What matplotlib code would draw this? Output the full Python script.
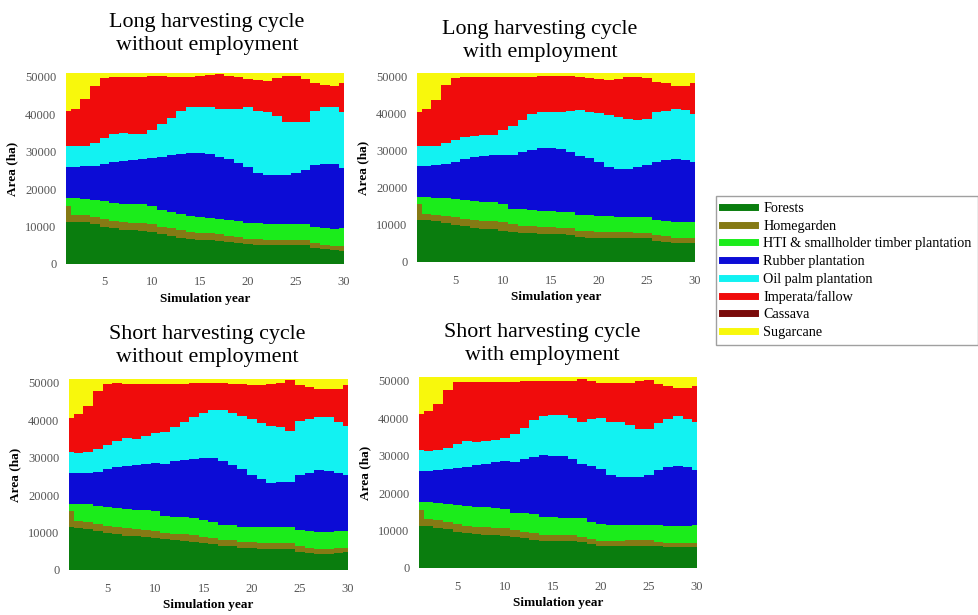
import numpy as np
import matplotlib
matplotlib.use("Agg")
import matplotlib.pyplot as plt
from matplotlib.lines import Line2D

plt.rcParams['font.family'] = ['Liberation Serif', 'DejaVu Serif']

# simulation years
years = np.arange(1, 31)

labels = ["Forests", "Homegarden", "HTI & smallholder timber plantation",
          "Rubber plantation", "Oil palm plantation", "Imperata/fallow",
          "Cassava", "Sugarcane"]
colors = ["#0a7d0e", "#857a14", "#1bec1b", "#0c0cd6",
          "#12f2f2", "#f00c0c", "#7a0a0a", "#f8f80c"]

# area per land use, thousand ha
cassava = [0, 0, 0, 0, 0, 0, 0, 0, 0, 0, 0, 0, 0, 0, 0,
           0, 0, 0, 0, 0, 0, 0, 0, 0, 0, 0, 0, 0, 0, 0]

# Long harvesting cycle without employment
ln_forest = [11.3, 11.3, 11.2, 10.6, 10.0, 9.5, 9.2, 9.0, 8.9, 8.6, 8.0, 7.6, 7.0, 6.7, 6.5,
             6.4, 6.1, 5.9, 5.6, 5.3, 5.2, 5.1, 5.1, 5.1, 5.1, 5.0, 4.3, 3.9, 3.7, 3.6]
ln_homegarden = [4.2, 1.9, 1.8, 1.9, 1.9, 1.9, 1.9, 2.0, 2.1, 2.1, 2.0, 2.0, 2.0, 1.9, 1.9,
                 1.8, 1.8, 1.7, 1.6, 1.5, 1.4, 1.4, 1.4, 1.4, 1.3, 1.3, 1.2, 1.2, 1.2, 1.2]
ln_hti = [2.0, 4.3, 4.4, 4.6, 4.8, 4.9, 5.0, 5.0, 4.9, 4.9, 4.5, 4.4, 4.4, 4.3, 4.2,
          4.1, 4.1, 4.2, 4.2, 4.2, 4.3, 4.3, 4.3, 4.3, 4.3, 4.3, 4.3, 4.5, 4.5, 4.7]
ln_rubber = [8.5, 8.5, 8.7, 9.2, 10.1, 10.9, 11.5, 11.9, 12.2, 12.8, 14.1, 15.0, 16.1, 16.7, 17.0,
             17.1, 16.6, 16.2, 15.6, 14.8, 13.4, 13.0, 13.0, 13.0, 13.7, 14.4, 16.7, 17.2, 17.2, 16.1]
ln_oilpalm = [5.6, 5.4, 5.5, 6.0, 6.8, 7.4, 7.5, 6.9, 6.6, 7.4, 8.8, 10.0, 11.3, 12.2, 12.4,
              12.6, 12.8, 13.3, 14.5, 16.0, 16.5, 16.7, 15.8, 14.2, 13.5, 12.8, 14.3, 15.0, 15.4, 15.0]
ln_imperata = [9.2, 10.1, 12.4, 15.3, 16.0, 15.4, 14.7, 15.0, 15.3, 14.3, 12.7, 11.0, 9.1, 8.1, 8.1,
               8.4, 9.2, 9.0, 8.4, 7.6, 8.2, 8.3, 10.0, 12.1, 12.2, 11.6, 7.4, 5.9, 5.5, 7.7]
ln_sugarcane = [10.2, 9.5, 7.0, 3.4, 1.4, 1.0, 1.2, 1.2, 1.0, 0.9, 0.9, 1.0, 1.1, 1.1, 0.9,
                0.6, 0.4, 0.7, 1.1, 1.6, 2.0, 2.2, 1.4, 0.9, 0.9, 1.6, 2.8, 3.3, 3.5, 2.7]

# Long harvesting cycle with employment
le_forest = [11.2, 11.2, 11.0, 10.6, 10.1, 9.6, 9.2, 9.0, 8.8, 8.5, 8.1, 7.8, 7.7, 7.6, 7.6,
             7.5, 7.4, 6.7, 6.6, 6.5, 6.5, 6.5, 6.5, 6.5, 6.5, 5.8, 5.5, 5.1, 5.1, 5.1]
le_homegarden = [4.5, 1.8, 1.8, 1.9, 2.0, 2.0, 2.0, 2.1, 2.2, 2.3, 2.1, 1.9, 1.9, 1.9, 1.8,
                 1.8, 1.8, 1.8, 1.7, 1.6, 1.5, 1.5, 1.5, 1.4, 1.4, 1.4, 1.4, 1.4, 1.4, 1.5]
le_hti = [1.8, 4.5, 4.6, 4.8, 5.0, 5.2, 5.3, 5.2, 5.1, 4.9, 4.2, 4.5, 4.3, 4.3, 4.3,
          4.3, 4.3, 4.3, 4.3, 4.3, 4.3, 4.2, 4.2, 4.3, 4.2, 4.2, 4.2, 4.3, 4.3, 4.2]
le_rubber = [8.4, 8.5, 8.8, 9.2, 10.0, 10.9, 11.8, 12.3, 12.7, 13.3, 14.6, 15.4, 16.4, 16.9, 17.0,
             16.9, 16.1, 15.9, 15.4, 14.5, 13.3, 12.8, 12.9, 13.4, 14.1, 15.5, 16.5, 17.0, 16.8, 16.1]
le_oilpalm = [5.3, 5.2, 5.2, 5.5, 5.7, 6.1, 5.8, 5.7, 5.6, 6.5, 7.6, 8.6, 9.6, 9.7, 9.7,
              10.1, 11.2, 12.3, 12.4, 13.3, 14.2, 14.1, 13.5, 12.7, 12.4, 13.5, 13.2, 13.5, 13.4, 13.0]
le_imperata = [9.2, 10.1, 12.4, 15.8, 16.8, 16.2, 15.7, 15.5, 15.4, 14.3, 13.2, 11.6, 9.9, 9.9, 9.9,
               9.7, 9.5, 9.0, 9.2, 9.2, 9.3, 10.3, 11.2, 11.5, 11.0, 8.3, 7.4, 6.3, 6.6, 8.3]
le_sugarcane = [10.6, 9.7, 7.2, 3.2, 1.4, 1.0, 1.2, 1.2, 1.2, 1.2, 1.2, 1.2, 1.2, 0.7, 0.7,
                0.7, 0.7, 1.0, 1.4, 1.6, 1.9, 1.6, 1.2, 1.2, 1.4, 2.3, 2.8, 3.4, 3.4, 2.8]

# Short harvesting cycle without employment
sn_forest = [11.4, 11.3, 10.9, 10.4, 9.9, 9.5, 9.2, 9.0, 8.8, 8.5, 8.2, 7.9, 7.8, 7.6, 7.2,
             6.9, 6.5, 6.3, 6.0, 5.8, 5.7, 5.7, 5.6, 5.6, 4.9, 4.6, 4.3, 4.4, 4.5, 4.7]
sn_homegarden = [4.3, 1.7, 1.8, 1.8, 1.9, 1.9, 1.9, 1.9, 1.8, 1.8, 1.8, 1.8, 1.7, 1.7, 1.6,
                 1.6, 1.6, 1.6, 1.6, 1.6, 1.6, 1.6, 1.6, 1.6, 1.4, 1.4, 1.3, 1.3, 1.3, 1.3]
sn_hti = [2.0, 4.6, 4.8, 5.0, 5.0, 5.1, 5.2, 5.2, 5.3, 5.4, 4.3, 4.5, 4.7, 4.5, 4.5,
          4.2, 4.0, 4.0, 4.0, 4.2, 4.2, 4.2, 4.3, 4.3, 4.3, 4.4, 4.5, 4.5, 4.5, 4.5]
sn_rubber = [8.1, 8.3, 8.5, 9.0, 10.1, 10.9, 11.5, 11.9, 12.3, 13.0, 14.1, 14.9, 15.2, 15.9, 16.6,
             17.2, 17.0, 16.1, 15.3, 13.9, 12.7, 11.8, 12.1, 12.1, 14.7, 15.6, 16.6, 16.2, 15.7, 15.0]
sn_oilpalm = [5.6, 5.3, 5.4, 6.1, 6.4, 7.1, 7.4, 6.9, 7.6, 7.8, 8.5, 9.2, 10.0, 11.1, 11.9,
              12.7, 13.5, 13.8, 14.3, 14.8, 15.0, 15.2, 14.5, 13.6, 14.6, 14.3, 14.1, 14.4, 13.4, 13.0]
sn_imperata = [9.1, 10.5, 12.3, 15.4, 16.4, 15.5, 14.5, 14.8, 13.9, 13.2, 12.8, 11.4, 10.3, 9.2, 8.2,
               7.4, 7.4, 7.9, 8.5, 9.2, 10.1, 11.2, 11.9, 13.4, 9.4, 8.5, 7.4, 7.4, 8.8, 11.0]
sn_sugarcane = [10.5, 9.3, 7.3, 3.3, 1.3, 1.0, 1.3, 1.3, 1.3, 1.3, 1.3, 1.3, 1.3, 1.0, 1.0,
                1.0, 1.0, 1.3, 1.3, 1.5, 1.7, 1.3, 1.0, 0.4, 1.7, 2.2, 2.8, 2.8, 2.8, 1.5]

# Short harvesting cycle with employment
se_forest = [11.2, 11.1, 10.8, 10.3, 9.7, 9.3, 9.0, 8.9, 8.8, 8.6, 8.2, 7.9, 7.5, 7.2, 7.2,
             7.2, 7.2, 7.0, 6.4, 5.9, 5.9, 5.9, 5.9, 5.9, 5.9, 5.8, 5.6, 5.6, 5.6, 5.6]
se_homegarden = [4.3, 1.9, 1.9, 1.9, 2.0, 2.0, 2.0, 2.0, 2.0, 2.0, 1.9, 1.8, 1.8, 1.6, 1.6,
                 1.6, 1.6, 1.3, 1.4, 1.4, 1.4, 1.4, 1.5, 1.5, 1.5, 1.2, 1.1, 1.1, 1.1, 1.2]
se_hti = [2.0, 4.5, 4.7, 4.9, 5.1, 5.3, 5.4, 5.3, 5.2, 5.1, 4.7, 5.1, 5.1, 4.7, 4.7,
          4.6, 4.6, 5.0, 4.6, 4.4, 4.3, 4.2, 4.2, 4.2, 4.2, 4.4, 4.6, 4.5, 4.6, 4.7]
se_rubber = [8.3, 8.4, 8.7, 9.3, 9.9, 10.5, 11.2, 11.7, 12.2, 12.8, 13.4, 14.3, 15.3, 16.7, 16.5,
             16.6, 15.7, 14.6, 14.9, 14.7, 13.3, 12.8, 12.7, 12.7, 13.3, 14.9, 15.7, 16.1, 15.7, 14.6]
se_oilpalm = [5.6, 5.3, 5.5, 5.7, 6.3, 6.9, 6.0, 6.1, 5.9, 6.3, 7.6, 8.4, 9.8, 10.4, 10.8,
              10.9, 11.0, 11.1, 12.6, 13.7, 14.2, 14.7, 14.0, 12.9, 12.1, 12.3, 12.9, 13.3, 12.7, 12.9]
se_imperata = [9.8, 10.7, 12.3, 15.5, 16.7, 15.7, 16.1, 15.7, 15.6, 14.9, 13.9, 12.5, 10.5, 9.4, 9.2,
               9.1, 9.9, 11.4, 10.1, 9.3, 10.3, 10.4, 11.1, 12.8, 13.3, 10.5, 8.8, 7.4, 8.3, 9.7]
se_sugarcane = [9.8, 9.1, 7.1, 3.4, 1.3, 1.3, 1.3, 1.3, 1.3, 1.3, 1.3, 1.0, 1.0, 1.0, 1.0,
                1.0, 1.0, 0.6, 1.0, 1.6, 1.6, 1.6, 1.6, 1.0, 0.7, 1.9, 2.3, 3.0, 3.0, 2.3]

panels = [
    ("Long harvesting cycle\nwithout employment", [66, 73, 278, 191], (207, 34),
     [ln_forest, ln_homegarden, ln_hti, ln_rubber, ln_oilpalm, ln_imperata, cassava, ln_sugarcane]),
    ("Long harvesting cycle\nwith employment", [417, 73, 278, 189], (540, 41),
     [le_forest, le_homegarden, le_hti, le_rubber, le_oilpalm, le_imperata, cassava, le_sugarcane]),
    ("Short harvesting cycle\nwithout employment", [69, 379, 279, 191], (207, 346),
     [sn_forest, sn_homegarden, sn_hti, sn_rubber, sn_oilpalm, sn_imperata, cassava, sn_sugarcane]),
    ("Short harvesting cycle\nwith employment", [419, 377, 278, 191], (542, 344),
     [se_forest, se_homegarden, se_hti, se_rubber, se_oilpalm, se_imperata, cassava, se_sugarcane]),
]

W, H = 979, 615
fig = plt.figure(figsize=(W / 100, H / 100), dpi=100)

for title, (px, py, pw, ph), (tx, ty), layers in panels:
    ax = fig.add_axes([px / W, 1 - (py + ph) / H, pw / W, ph / H])
    base = np.zeros(len(years))
    for vals, col in zip(layers, colors):
        top = base + np.array(vals) * 1000
        ax.fill_between(years, base, top, step='mid', color=col, linewidth=0)
        base = top
    ax.set_xlim(1, 30)
    ax.set_ylim(0, 51000)
    ax.set_xticks([5, 10, 15, 20, 25, 30])
    ax.set_yticks([0, 10000, 20000, 30000, 40000, 50000])
    for s in ax.spines.values():
        s.set_visible(False)
    ax.tick_params(length=0, labelsize=9, colors="#555555")
    ax.tick_params(axis='x', pad=9)
    ax.tick_params(axis='y', pad=7)
    ax.set_xlabel("Simulation year", fontsize=9.5, fontweight='bold', labelpad=3)
    ax.set_ylabel("Area (ha)", fontsize=9.5, fontweight='bold', labelpad=5)
    fig.text(tx / W, 1 - ty / H, title, ha='center', va='center',
             fontsize=15.8, linespacing=1.25)

handles = [Line2D([0], [0], color=c, lw=5) for c in colors]
leg = fig.legend(handles, labels, loc='upper left', bbox_to_anchor=(716 / W, 1 - 196 / H),
                 fontsize=10.2, frameon=True, fancybox=False, handlelength=2.3,
                 handletextpad=0.6, labelspacing=0.32, borderpad=0.45,
                 borderaxespad=0)
leg.get_frame().set_edgecolor("#888888")
leg.get_frame().set_linewidth(1.0)

fig.savefig("out.png", dpi=100)
